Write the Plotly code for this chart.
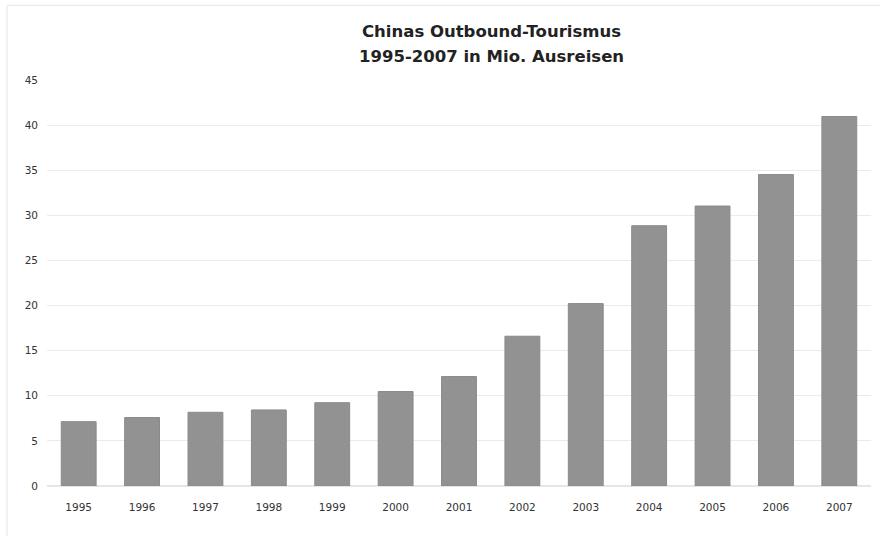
import plotly.graph_objects as go

years = ["1995", "1996", "1997", "1998", "1999", "2000", "2001",
         "2002", "2003", "2004", "2005", "2006", "2007"]
trips = [7.13, 7.59, 8.17, 8.43, 9.23, 10.47, 12.13,
         16.6, 20.22, 28.85, 31.03, 34.52, 40.95]
y_ticks = [0, 5, 10, 15, 20, 25, 30, 35, 40, 45]
title_lines = ["Chinas Outbound-Tourismus", "1995-2007 in Mio. Ausreisen"]

H = 536
fig = go.Figure(go.Bar(
    x=years, y=trips,
    marker=dict(color="#929292", line=dict(color="#8a8a8a", width=1)),
))

annotations = []
for i, (line, ypix) in enumerate(zip(title_lines, [32, 57])):
    annotations.append(dict(
        text="<b>" + line + "</b>", xref="paper", yref="paper",
        x=0.539, y=(H - 50 - ypix) / (H - 130), xanchor="center", yanchor="middle",
        showarrow=False, font=dict(family="DejaVu Sans", size=16.5, color="#222222"),
    ))

fig.update_layout(
    width=880, height=H,
    margin=dict(l=47, r=9, t=80, b=50),
    paper_bgcolor="white", plot_bgcolor="white",
    bargap=0.45,
    showlegend=False,
    font=dict(family="DejaVu Sans", color="#333333", size=10),
    annotations=annotations,
    xaxis=dict(
        showgrid=False, showline=False, ticks="",
        tickfont=dict(size=10.5, color="#333333"),
        ticklabelstandoff=13,
    ),
    yaxis=dict(
        range=[0, 45], tickvals=y_ticks, showgrid=True,
        gridcolor="#ebebeb", gridwidth=1, zeroline=True,
        zerolinecolor="#e6e6e6", showline=False, ticks="",
        tickfont=dict(size=10.5, color="#333333"),
        ticklabelstandoff=8,
    ),
    shapes=[dict(type="rect", xref="paper", yref="paper",
                 x0=-0.0485, x1=1.02, y0=-0.2, y1=1.184,
                 line=dict(color="#e4e4e4", width=1), layer="below")],
)

fig.write_html("out.html")
